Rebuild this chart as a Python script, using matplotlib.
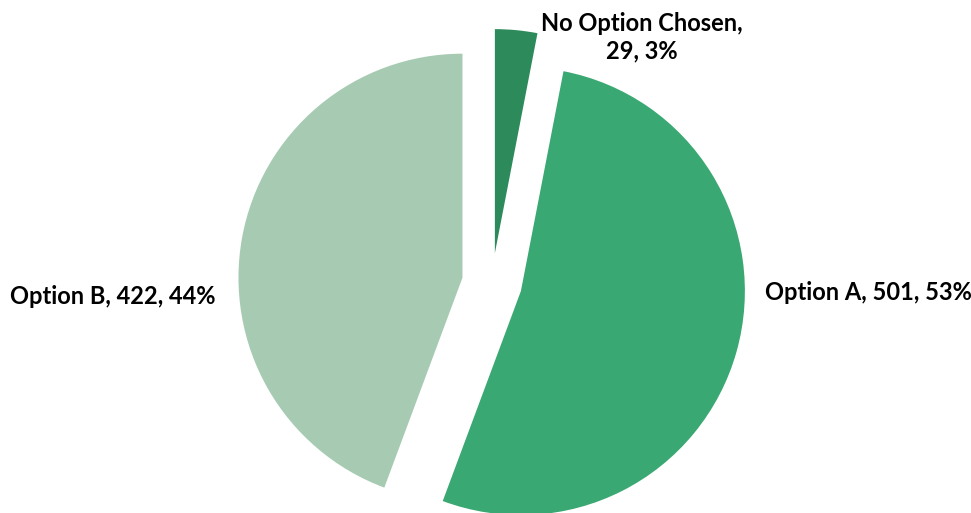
import matplotlib
matplotlib.use("Agg")
import matplotlib.pyplot as plt

categories = ["No Option Chosen", "Option A", "Option B"]
values = [29, 501, 422]
colors = ["#2D8A5B", "#3AA872", "#A6CBB2"]

W, H = 971, 513
fig = plt.figure(figsize=(W / 100, H / 100), dpi=100)
ax = fig.add_axes([0, 0, 1, 1])

cx, cy, r = 492, H - 283, 224
wedges, _ = ax.pie(values, colors=colors, startangle=90, counterclock=False,
                   explode=[30] * 3, center=(cx, cy), radius=r, frame=True)
ax.set_xlim(0, W)
ax.set_ylim(0, H)
ax.set_aspect("equal")
ax.axis("off")

total = sum(values)
pct = [round(v / total * 100) for v in values]
font = dict(fontfamily="Lato", fontweight="bold", fontsize=17, color="black")
ax.text(642, H - 37, f"{categories[0]},\n{values[0]}, {pct[0]}%", ha="center", va="center",
        linespacing=1.25, **font)
ax.text(765, H - 293, f"{categories[1]}, {values[1]}, {pct[1]}%", ha="left", va="center", **font)
ax.text(10, H - 297, f"{categories[2]}, {values[2]}, {pct[2]}%", ha="left", va="center", **font)

fig.savefig("out.png", dpi=100)
